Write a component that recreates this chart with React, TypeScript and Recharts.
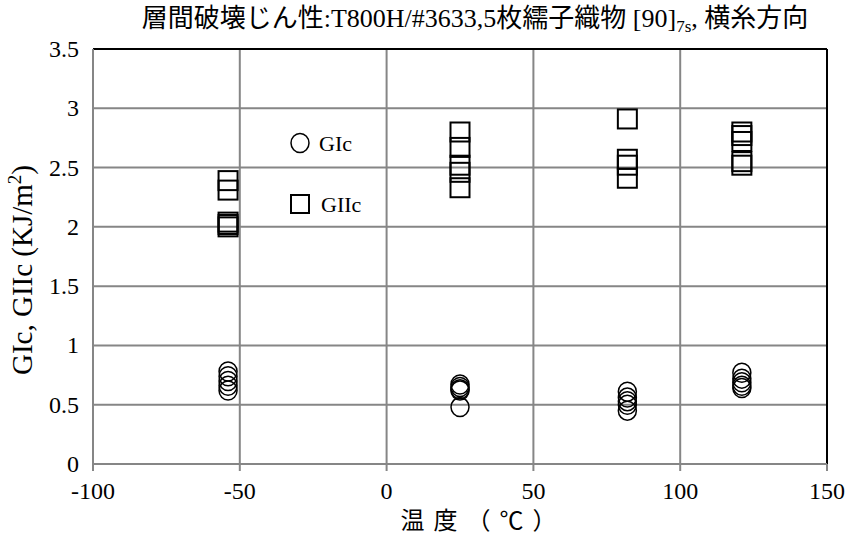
import React from 'react';
import { ScatterChart, Scatter, XAxis, YAxis, CartesianGrid, ReferenceLine } from 'recharts';

// temperatures (°C) for each test condition
const temps = [-54, 25, 82, 121];

// GIc readings per temperature
const gicM54 = [0.78, 0.74, 0.7, 0.66, 0.62];
const gic25 = [0.67, 0.65, 0.63, 0.62, 0.48];
const gic82 = [0.61, 0.56, 0.53, 0.5, 0.45];
const gic121 = [0.77, 0.72, 0.69, 0.66, 0.64];

// GIIc readings per temperature
const giicM54 = [2.39, 2.31, 2.04, 2.02, 2.0];
const giic25 = [2.8, 2.67, 2.52, 2.46, 2.33];
const giic82 = [2.91, 2.57, 2.52, 2.41];
const giic121 = [2.8, 2.77, 2.72, 2.55, 2.52];

const xTicks = [-100, -50, 0, 50, 100, 150];
const yTicks = [0, 0.5, 1, 1.5, 2, 2.5, 3, 3.5];

const toPoints = (groups: number[][]) =>
    groups.flatMap((vals, i) => vals.map((v) => ({ t: temps[i], g: v })));

const gicData = toPoints([gicM54, gic25, gic82, gic121]);
const giicData = toPoints([giicM54, giic25, giic82, giic121]);

const FONT = '"Liberation Serif", "Noto Sans CJK JP", serif';
const GRID = '#868686';

const CircleMark = (p: any) => (
    <ellipse cx={p.cx} cy={p.cy} rx={9} ry={9.5} fill="none" stroke="#000" strokeWidth={1.5} />
);
const SquareMark = (p: any) => (
    <rect x={p.cx - 9.5} y={p.cy - 9.5} width={19} height={19} fill="none" stroke="#000" strokeWidth={2} />
);

const XTick = ({ x, y, payload }: any) => (
    <text x={x} y={y + 28} textAnchor="middle" fontSize={24} fontFamily={FONT} fill="#000">
        {payload.value}
    </text>
);
const YTick = ({ x, y, payload }: any) => (
    <text x={x} y={y + 8} textAnchor="end" fontSize={24} fontFamily={FONT} fill="#000">
        {payload.value}
    </text>
);

export default function App() {
    return (
        <div style={{ position: 'absolute', left: 0, top: 0, width: 851, height: 536, background: '#fff' }}>
            <ScatterChart width={851} height={536} margin={{ top: 49, right: 24, bottom: 0, left: 0 }}>
                <CartesianGrid stroke={GRID} strokeWidth={2} />
                <XAxis
                    type="number"
                    dataKey="t"
                    domain={[-100, 150]}
                    ticks={xTicks}
                    height={72}
                    stroke={GRID}
                    strokeWidth={2}
                    tickSize={7}
                    tickMargin={0}
                    tick={<XTick />}
                    allowDataOverflow
                />
                <YAxis
                    type="number"
                    dataKey="g"
                    domain={[0, 3.5]}
                    ticks={yTicks}
                    width={93}
                    stroke={GRID}
                    strokeWidth={2}
                    tickLine={false}
                    tickSize={0}
                    tickMargin={14}
                    tick={<YTick />}
                    allowDataOverflow
                />
                <ReferenceLine y={3.5} stroke="#000" strokeWidth={2} />
                <ReferenceLine x={150} stroke="#000" strokeWidth={2} />
                <Scatter data={gicData} shape={CircleMark} isAnimationActive={false} />
                <Scatter data={giicData} shape={SquareMark} isAnimationActive={false} />
            </ScatterChart>
            <svg width={851} height={536} style={{ position: 'absolute', left: 0, top: 0, pointerEvents: 'none' }}>
                <text x={475} y={27} textAnchor="middle" fontSize={26} fontFamily={FONT} fill="#000">
                    層間破壊じん性:T800H/#3633,5枚繻子織物 [90]
                    <tspan fontSize={17} dy={5}>7s</tspan>
                    <tspan dy={-5}>, 横糸方向</tspan>
                </text>
                <text
                    transform="translate(32,270) rotate(-90)"
                    textAnchor="middle"
                    fontSize={29}
                    fontFamily={FONT}
                    fill="#000"
                >
                    GIc, GIIc (KJ/m
                    <tspan fontSize={19} dy={-11}>2</tspan>
                    <tspan dy={11}>)</tspan>
                </text>
                <text x={483} y={529} textAnchor="middle" fontSize={24} letterSpacing={9} fontFamily={FONT} fill="#000">
                    温度（℃）
                </text>
                <ellipse cx={300} cy={143} rx={9} ry={9.5} fill="none" stroke="#000" strokeWidth={1.5} />
                <text x={319} y={151} fontSize={22} fontFamily={FONT} fill="#000">GIc</text>
                <rect x={291} y={195} width={18} height={18} fill="none" stroke="#000" strokeWidth={2} />
                <text x={321} y={212} fontSize={22} fontFamily={FONT} fill="#000">GIIc</text>
            </svg>
        </div>
    );
}
